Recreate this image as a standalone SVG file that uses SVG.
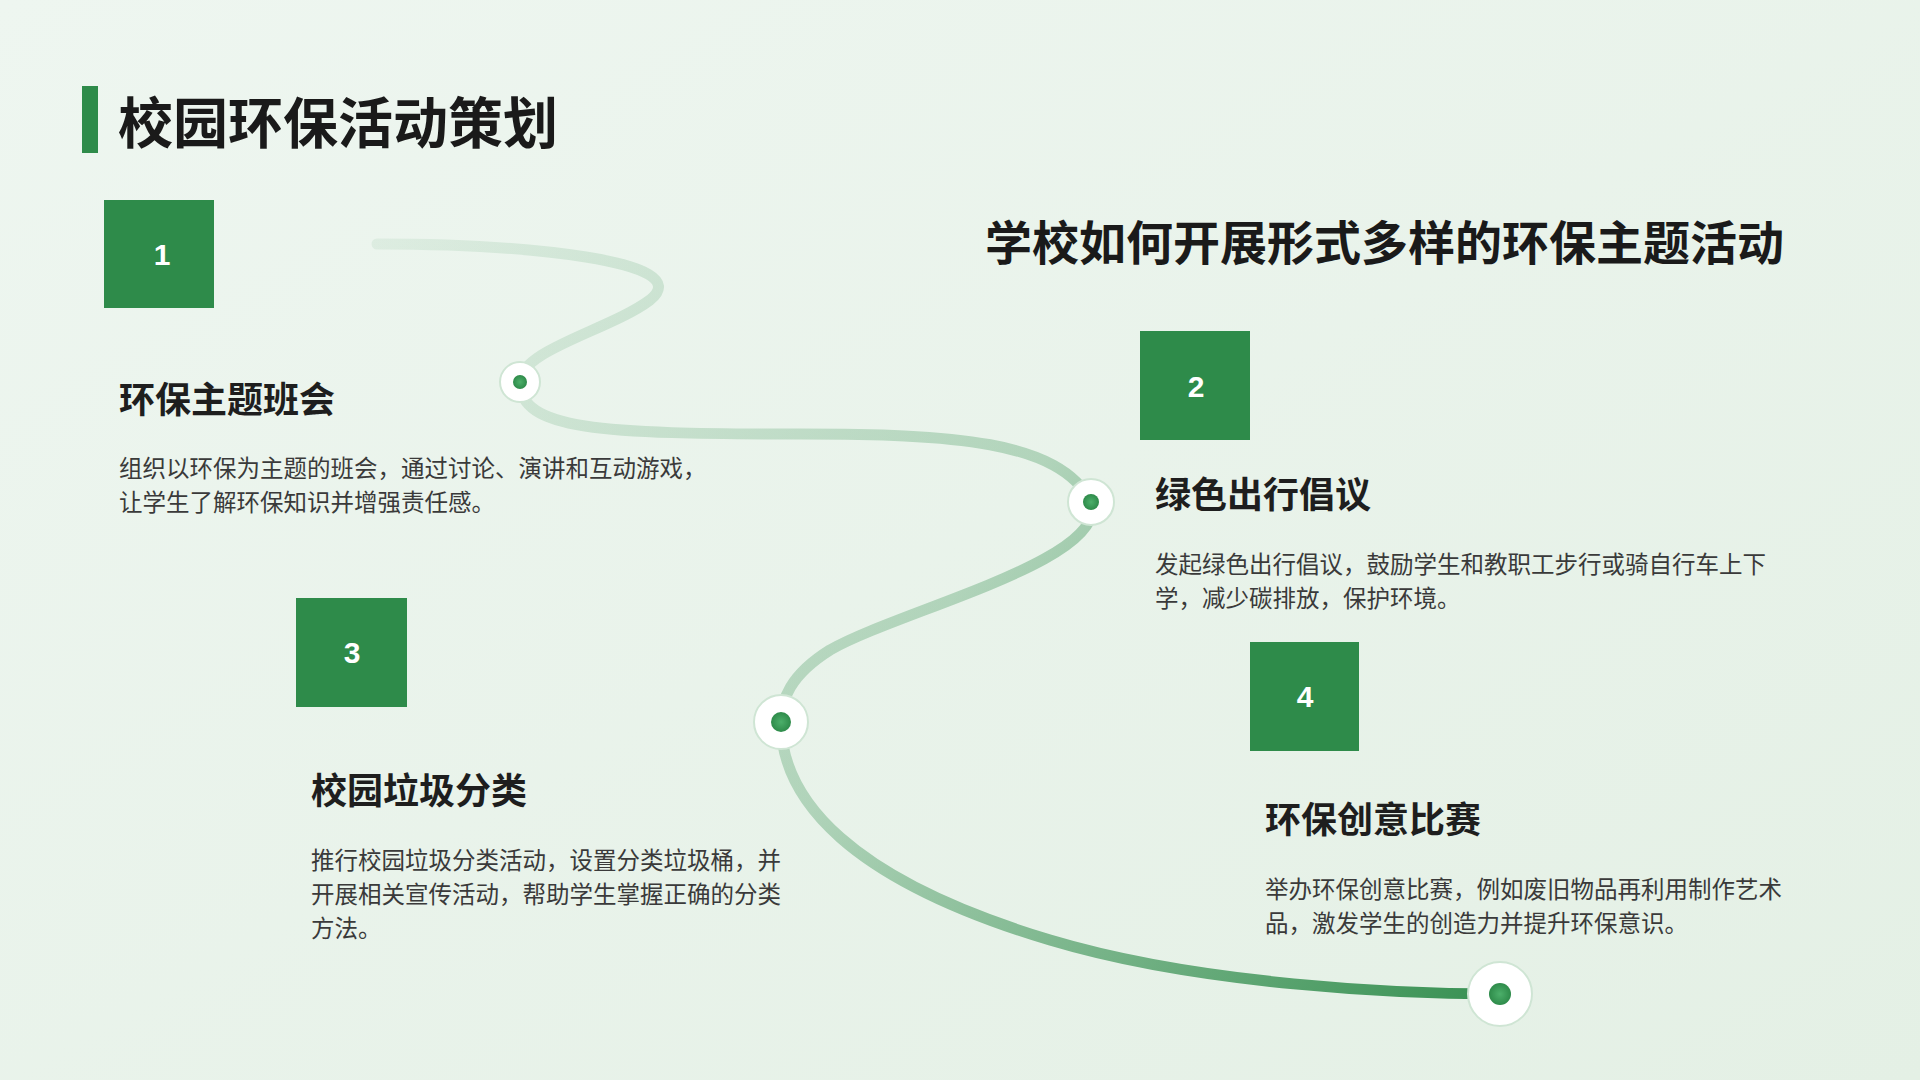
<svg xmlns="http://www.w3.org/2000/svg" width="1920" height="1080" viewBox="0 0 1920 1080">
<defs>
<linearGradient id="bg" x1="0" y1="0" x2="1" y2="1"><stop offset="0" stop-color="#eef6f0"/><stop offset="1" stop-color="#e4f0e5"/></linearGradient>
<linearGradient id="ln" gradientUnits="userSpaceOnUse" x1="377" y1="244" x2="1500" y2="994"><stop offset="0" stop-color="#2e8b4a" stop-opacity="0.08"/><stop offset="0.5" stop-color="#2e8b4a" stop-opacity="0.3"/><stop offset="1" stop-color="#2e8b4a" stop-opacity="0.95"/></linearGradient>
<radialGradient id="dg"><stop offset="0" stop-color="#4caf6a"/><stop offset="1" stop-color="#2e8b4a"/></radialGradient>
<style>
.box{fill:#2e8b4a}
.num{font-family:"Liberation Sans",Arial,sans-serif;font-weight:bold;font-size:30px;fill:#fff;text-anchor:middle}
.h{font-family:"Noto Sans CJK SC",sans-serif;font-weight:bold;font-size:36px;fill:#1e1e1e}
.d{font-family:"Noto Sans CJK SC",sans-serif;font-size:23.5px;fill:#3a3a3a}
.ring{fill:#fff;stroke:#cfe5d4;stroke-width:2}
.dot{fill:url(#dg)}
</style>
</defs>
<rect width="1920" height="1080" fill="url(#bg)"/>
<rect x="82" y="86" width="16" height="67" fill="#2e8b4a"/>
<text x="118" y="143" font-family="'Noto Sans CJK SC',sans-serif" font-weight="bold" font-size="55" fill="#1a1a1a">校园环保活动策划</text>
<text x="985" y="260" font-family="'Noto Sans CJK SC',sans-serif" font-weight="bold" font-size="47" fill="#1a1a1a">学校如何开展形式多样的环保主题活动</text>
<g id="connectors">
<path d="M377,244 C520,244 700,260 650,300 C610,330 520,350 520,382 C520,430 600,434 800,434 C950,434 1060,440 1091,502 C1110,560 900,610 830,650 C790,675 781,700 781,722 C781,800 850,880 1050,940 C1200,985 1400,994 1500,994" fill="none" stroke="url(#ln)" stroke-width="11" stroke-linecap="round"/>
</g>
<g id="dot1"><circle class="ring" cx="520" cy="382" r="20"/><circle class="dot" cx="520" cy="382" r="7"/></g>
<g id="dot2"><circle class="ring" cx="1091" cy="502" r="23"/><circle class="dot" cx="1091" cy="502" r="8"/></g>
<g id="dot3"><circle class="ring" cx="781" cy="722" r="27"/><circle class="dot" cx="781" cy="722" r="10"/></g>
<g id="dot4"><circle class="ring" cx="1500" cy="994" r="32"/><circle class="dot" cx="1500" cy="994" r="11"/></g>
<g id="node1"><rect class="box" x="104" y="200" width="110" height="108"/><text class="num" x="162" y="265">1</text>
<text class="h" x="119" y="413">环保主题班会</text>
<text class="d" x="119" y="477">组织以环保为主题的班会，通过讨论、演讲和互动游戏，</text>
<text class="d" x="119" y="511">让学生了解环保知识并增强责任感。</text></g>
<g id="node2"><rect class="box" x="1140" y="331" width="110" height="109"/><text class="num" x="1196" y="397">2</text>
<text class="h" x="1155" y="508">绿色出行倡议</text>
<text class="d" x="1155" y="573">发起绿色出行倡议，鼓励学生和教职工步行或骑自行车上下</text>
<text class="d" x="1155" y="607">学，减少碳排放，保护环境。</text></g>
<g id="node3"><rect class="box" x="296" y="598" width="111" height="109"/><text class="num" x="352" y="663">3</text>
<text class="h" x="311" y="804">校园垃圾分类</text>
<text class="d" x="311" y="869">推行校园垃圾分类活动，设置分类垃圾桶，并</text>
<text class="d" x="311" y="903">开展相关宣传活动，帮助学生掌握正确的分类</text>
<text class="d" x="311" y="937">方法。</text></g>
<g id="node4"><rect class="box" x="1250" y="642" width="109" height="109"/><text class="num" x="1305" y="707">4</text>
<text class="h" x="1265" y="833">环保创意比赛</text>
<text class="d" x="1265" y="898">举办环保创意比赛，例如废旧物品再利用制作艺术</text>
<text class="d" x="1265" y="932">品，激发学生的创造力并提升环保意识。</text></g>
</svg>
